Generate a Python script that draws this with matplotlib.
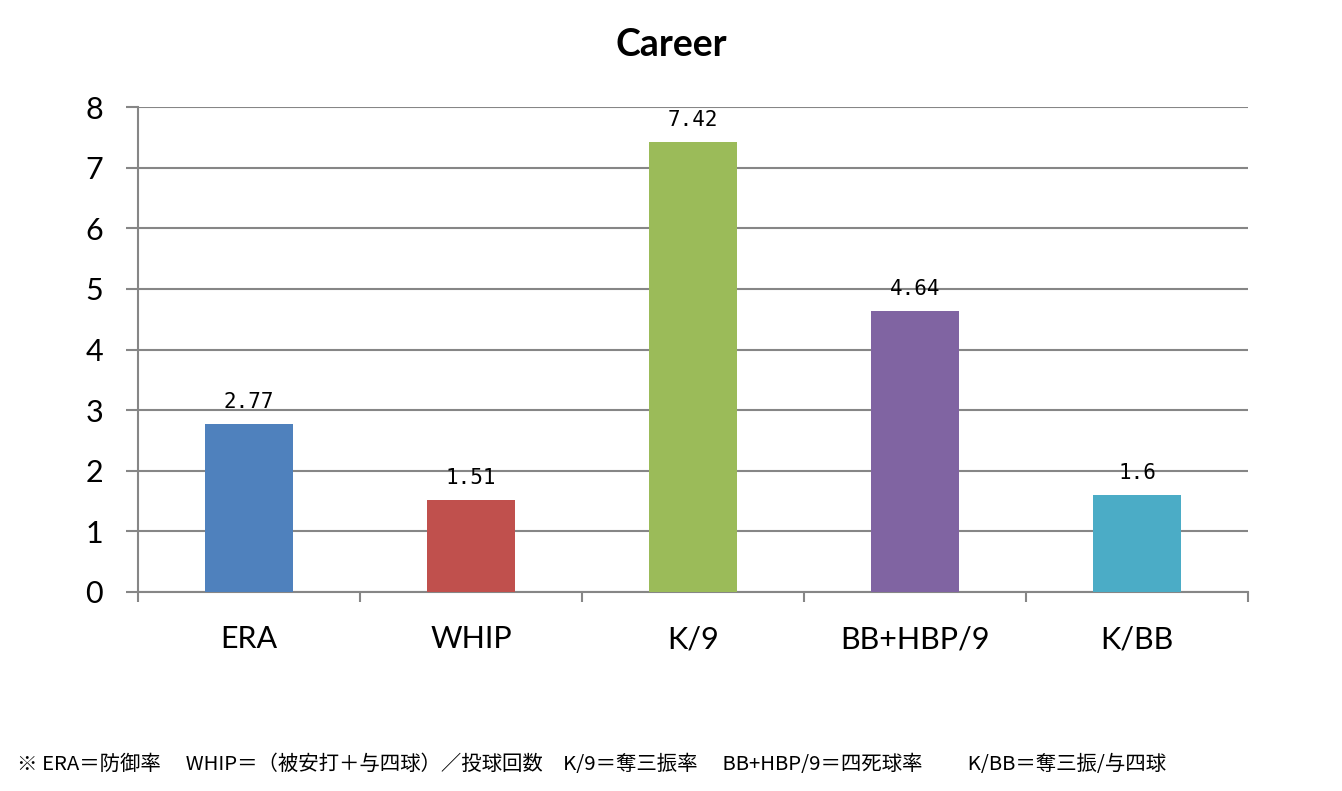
import matplotlib.pyplot as plt

plt.rcParams['font.family'] = ['Lato', 'Noto Sans CJK JP', 'DejaVu Sans']

# data
categories = ['ERA', 'WHIP', 'K/9', 'BB+HBP/9', 'K/BB']
values = [2.77, 1.51, 7.42, 4.64, 1.6]
value_labels = ['2.77', '1.51', '7.42', '4.64', '1.6']
colors = ['#4F81BD', '#C0504D', '#9BBB59', '#8064A2', '#4BACC6']
footnote = ('※ ERA＝防御率　 WHIP＝（被安打＋与四球）／投球回数　K/9＝奪三振率'
            '　 BB+HBP/9＝四死球率　　 K/BB＝奪三振/与四球')

fig = plt.figure(figsize=(13.42, 7.91), dpi=100)
ax = fig.add_axes([0.1028, 0.2516, 0.8272, 0.6131])

x = range(len(categories))
ax.bar(x, values, width=0.4, color=colors, zorder=3)

for xi, v, lab in zip(x, values, value_labels):
    ax.text(xi, v + 0.2, lab, ha='center', va='bottom', fontsize=15,
            family=['DejaVu Sans Mono'])

ax.set_xlim(-0.5, len(categories) - 0.5)
ax.set_ylim(0, 8)
ax.set_yticks(range(0, 9))
ax.yaxis.grid(True, color='#868686', linewidth=1.5, zorder=0)
ax.tick_params(axis='y', length=9, color='#868686', width=1.5,
               labelsize=22, pad=16)

# category ticks sit between bars
ax.set_xticks(x)
ax.set_xticklabels(categories, fontsize=22)
ax.tick_params(axis='x', length=0, pad=24)
ax.set_xticks([i - 0.5 for i in range(len(categories) + 1)], minor=True)
ax.tick_params(axis='x', which='minor', length=7, color='#868686', width=1.5)

for s in ['top', 'right']:
    ax.spines[s].set_visible(False)
ax.spines['left'].set_color('#868686')
ax.spines['left'].set_linewidth(1.5)
ax.spines['bottom'].set_color('#868686')
ax.spines['bottom'].set_linewidth(1.5)

fig.text(0.5, 0.943, 'Career', ha='center', va='center', fontsize=27,
         fontweight='bold')
fig.text(0.013, 0.033, footnote, ha='left', va='center', fontsize=14.7,
         family=['Noto Sans CJK JP', 'DejaVu Sans'])

fig.savefig('out.png', dpi=100)
